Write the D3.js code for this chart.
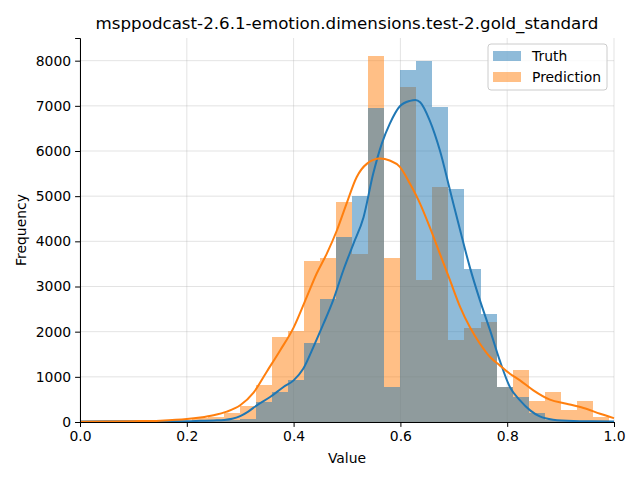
<!DOCTYPE html>
<html>
<head>
<meta charset="utf-8">
<script src="https://cdn.jsdelivr.net/npm/d3@7"></script>
<style>
  html, body { margin: 0; padding: 0; background: #fff; }
  svg { display: block; font-family: "DejaVu Sans", sans-serif; }
</style>
</head>
<body>
<svg id="chart" width="640" height="480"></svg>
<script>
// ---- data ----
const title = "msppodcast-2.6.1-emotion.dimensions.test-2.gold_standard";
const seriesNames = ["Truth", "Prediction"];
const binWidth = 0.03;
const binStarts = [0.00,0.03,0.06,0.09,0.12,0.15,0.18,0.21,0.24,0.27,0.30,0.33,0.36,0.39,0.42,0.45,0.48,0.51,0.54,0.57,0.60,0.63,0.66,0.69,0.72,0.75,0.78,0.81,0.84,0.87,0.90,0.93,0.96];
const truthCounts = [10,10,15,15,10,10,10,15,25,50,60,442,664,922,1748,2721,4093,4993,6947,774,7802,8000,6984,5162,3392,2397,775,553,199,52,25,15,10];
const predCounts  = [5,5,5,5,10,15,30,96,118,200,350,811,1880,2006,3555,3621,4882,3717,8097,3621,7411,3149,5199,1822,2087,2205,780,1150,462,660,258,462,121];
const truthKdeX = [0,0.05,0.1,0.15,0.2,0.225,0.25,0.27,0.285,0.3,0.315,0.331,0.356,0.381,0.4,0.418,0.437,0.456,0.474,0.493,0.512,0.531,0.549,0.565,0.58,0.599,0.618,0.628,0.637,0.655,0.674,0.693,0.712,0.73,0.749,0.768,0.786,0.805,0.824,0.843,0.861,0.886,0.924,0.96,1.0];
const truthKdeY = [12,15,18,14,15,25,35,45,70,130,230,369,553,774,922,1180,1659,2176,2692,3355,3945,4535,5494,6158,6600,6990,7110,7130,7080,6674,6010,5125,4240,3429,2692,2028,1364,774,479,258,125,52,22,15,12];
const predKdeX = [0,0.05,0.1,0.15,0.2,0.225,0.25,0.275,0.3,0.325,0.35,0.375,0.4,0.4245,0.443,0.462,0.481,0.499,0.518,0.537,0.562,0.58,0.599,0.618,0.637,0.655,0.674,0.693,0.712,0.73,0.749,0.768,0.786,0.805,0.824,0.849,0.88,0.911,0.943,0.974,1.0];
const predKdeY = [8,12,18,30,65,100,150,230,370,650,1120,1590,2090,2765,3282,3724,4240,4830,5420,5715,5833,5789,5650,5273,4830,4314,3724,3134,2544,2102,1733,1438,1254,1069,922,700,494,406,310,184,85];
const xTicks = [0.0,0.2,0.4,0.6,0.8,1.0];
const yTicks = [0,1000,2000,3000,4000,5000,6000,7000,8000];
const xDomain = [0, 1];
const yDomain = [0, 8502];

// ---- layout ----
const margin = {left: 80, right: 26, top: 38, bottom: 58};
const W = 640, H = 480;
const iw = W - margin.left - margin.right;
const ih = H - margin.top - margin.bottom;
const blue = "#1f77b4", orange = "#ff7f0e";

const svg = d3.select("#chart");
svg.append("rect").attr("width", W).attr("height", H).attr("fill", "#fff");
const g = svg.append("g").attr("transform", `translate(${margin.left},${margin.top})`);

const x = d3.scaleLinear().domain(xDomain).range([0, iw]);
const y = d3.scaleLinear().domain(yDomain).range([ih, 0]);

// grid
const grid = g.append("g");
grid.selectAll("line.gx").data(xTicks).join("line")
  .attr("x1", d => x(d)).attr("x2", d => x(d)).attr("y1", 0).attr("y2", ih)
  .attr("stroke", "#b0b0b0").attr("stroke-opacity", 0.45).attr("stroke-width", 0.8);
grid.selectAll("line.gy").data(yTicks).join("line")
  .attr("x1", 0).attr("x2", iw).attr("y1", d => y(d)).attr("y2", d => y(d))
  .attr("stroke", "#b0b0b0").attr("stroke-opacity", 0.45).attr("stroke-width", 0.8);

// bars: prediction first, truth on top
function drawBars(counts, color) {
  g.append("g").selectAll("rect").data(counts).join("rect")
    .attr("x", (d, i) => x(binStarts[i]))
    .attr("width", (d, i) => x(binStarts[i] + binWidth) - x(binStarts[i]))
    .attr("y", d => y(d))
    .attr("height", d => y(0) - y(d))
    .attr("fill", color).attr("fill-opacity", 0.5)
    .attr("shape-rendering", "crispEdges");
}
drawBars(predCounts, orange);
drawBars(truthCounts, blue);

// KDE lines
const line = d3.line().x(d => x(d[0])).y(d => y(d[1])).curve(d3.curveMonotoneX);
g.append("path").datum(truthKdeX.map((v, i) => [v, truthKdeY[i]]))
  .attr("d", line).attr("fill", "none").attr("stroke", blue).attr("stroke-width", 2);
g.append("path").datum(predKdeX.map((v, i) => [v, predKdeY[i]]))
  .attr("d", line).attr("fill", "none").attr("stroke", orange).attr("stroke-width", 2);

// axes
const xAxis = g.append("g").attr("transform", `translate(0,${ih})`)
  .call(d3.axisBottom(x).tickValues(xTicks).tickFormat(d3.format(".1f")).tickSizeOuter(0).tickSize(4.9).tickPadding(4));
const yAxis = g.append("g")
  .call(d3.axisLeft(y).tickValues(yTicks).tickFormat(d3.format("d")).tickSizeOuter(0).tickSize(4.9).tickPadding(4));
[xAxis, yAxis].forEach(a => {
  a.selectAll("text").attr("font-size", "13.9px").attr("fill", "#000").attr("font-family", "DejaVu Sans");
  a.selectAll("line").attr("stroke", "#000").attr("stroke-width", 1);
  a.select(".domain").attr("stroke", "#000").attr("stroke-width", 1);
});

// labels
svg.append("text").attr("x", margin.left + iw / 2).attr("y", 463)
  .attr("text-anchor", "middle").attr("font-size", "13.9px").text("Value");
svg.append("text").attr("transform", `translate(26,${margin.top + ih / 2}) rotate(-90)`)
  .attr("text-anchor", "middle").attr("font-size", "13.9px").text("Frequency");
svg.append("text").attr("x", margin.left + iw / 2).attr("y", 29)
  .attr("text-anchor", "middle").attr("font-size", "16.7px").text(title);

// legend
const lg = svg.append("g").attr("transform", "translate(488,44)");
lg.append("rect").attr("width", 119).attr("height", 46).attr("rx", 3)
  .attr("fill", "#fff").attr("fill-opacity", 0.8).attr("stroke", "#cccccc").attr("stroke-width", 1);
const legendColors = [blue, orange];
seriesNames.forEach((name, i) => {
  lg.append("rect").attr("x", 5).attr("y", 7 + i * 21).attr("width", 28).attr("height", 10)
    .attr("fill", legendColors[i]).attr("fill-opacity", 0.5);
  lg.append("text").attr("x", 44).attr("y", 17 + i * 21).attr("font-size", "13.9px").text(name);
});
</script>
</body>
</html>
